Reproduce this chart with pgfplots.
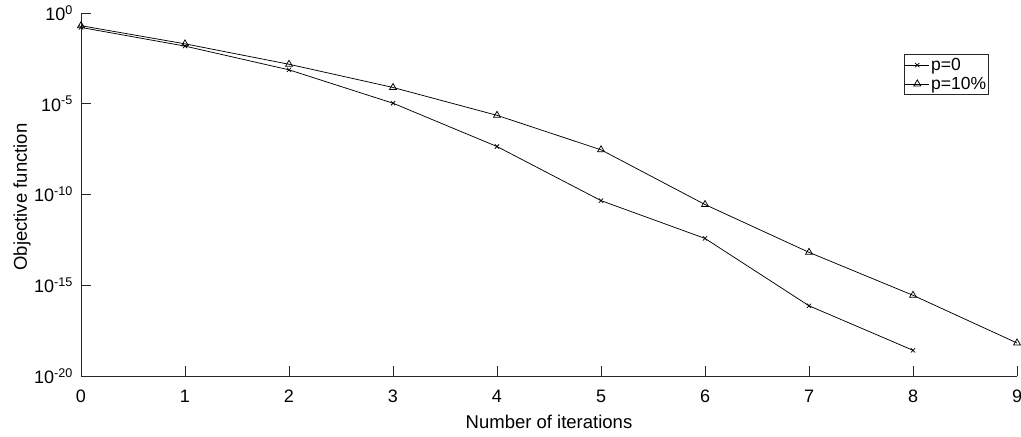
\documentclass[border=0pt]{standalone}
\usepackage{pgfplots}
\pgfplotsset{compat=1.18}
\usepackage{fontspec}
\setmainfont{Liberation Sans}
\definecolor{axgray}{HTML}{262626}

\begin{document}
\begin{tikzpicture}
    \useasboundingbox (-81bp,-61bp) rectangle (940bp,376bp);
    \begin{axis}[
        scale only axis,
        width=936bp, height=363bp,
        ymode=log,
        xmin=0, xmax=9,
        ymin=1e-20, ymax=1,
        axis lines*=left,
        x axis line style={-, color=axgray, line width=0.6bp},
        y axis line style={-, color=axgray, line width=0.6bp},
        tick style={color=axgray, line width=0.6bp},
        tick align=inside,
        major tick length=10bp,
        xtick={0,1,...,9},
        ytick={1e-20,1e-15,1e-10,1e-5,1},
        yticklabels={10\textsuperscript{-20},10\textsuperscript{-15},10\textsuperscript{-10},10\textsuperscript{-5},10\textsuperscript{0}},
        yminorticks=false,
        /pgf/number format/assume math mode=true,
        tick label style={font=\fontsize{18bp}{20bp}\selectfont},
        xticklabel style={anchor=base, inner sep=0pt, yshift=-26bp},
        yticklabel style={anchor=east, inner sep=0pt, xshift=-8bp},
        label style={font=\fontsize{18.5bp}{21bp}\selectfont},
        xlabel={Number of iterations},
        xlabel style={at={(axis description cs:0.5,-0.1433)}, anchor=base, inner sep=0pt},
        ylabel={Objective function},
        ylabel style={at={(axis description cs:-0.0577,0.493)}, anchor=base, inner sep=0pt},
        legend style={
            at={(0.97,0.887)}, anchor=north east,
            draw=axgray, line width=0.6bp,
            font=\fontsize{17.5bp}{19bp}\selectfont,
            inner xsep=1bp, inner ysep=3bp, row sep=3bp,
            nodes={inner xsep=1.5bp, inner ysep=1bp},
        },
        legend image code/.code={
            \draw[mark repeat=2, mark phase=2, #1]
                plot coordinates {(0bp,0bp) (12bp,0bp) (24bp,0bp)};
        },
        legend cell align=left,
    ]
        \addplot[black, line width=0.75bp, mark=x, mark size=3bp] table {
            0 1.6e-1
            1 1.5e-2
            2 7.4e-4
            3 1.07e-5
            4 4.4e-8
            5 4.6e-11
            6 3.8e-13
            7 7.4e-17
            8 2.6e-19
        };
        \addlegendentry{p=0}
        \addplot[black, line width=0.75bp, mark=triangle, mark size=4bp] table {
            0 2.0e-1
            1 2.0e-2
            2 1.5e-3
            3 7.9e-5
            4 2.3e-6
            5 2.9e-8
            6 2.8e-11
            7 6.5e-14
            8 2.8e-16
            9 6.6e-19
        };
        \addlegendentry{p=10\%}
    \end{axis}
\end{tikzpicture}
\end{document}
